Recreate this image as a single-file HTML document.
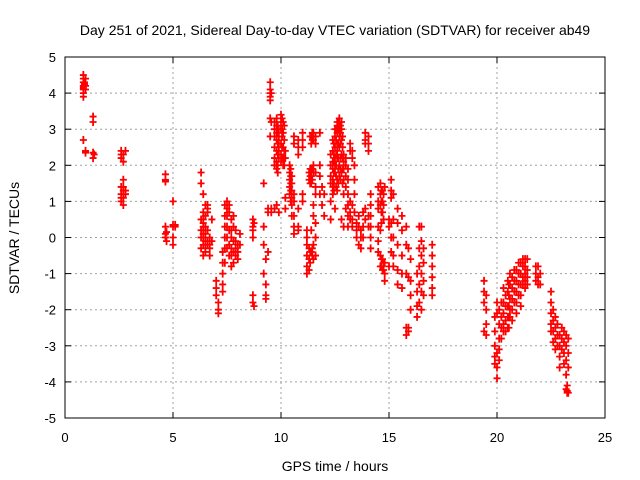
<!DOCTYPE html>
<html><head><meta charset="utf-8"><style>
body{margin:0;background:#fff}
svg{display:block;font-family:"Liberation Sans",sans-serif}
</style></head><body>
<svg id="chart" width="640" height="480">
<text x="335" y="35" text-anchor="middle" font-size="14">Day 251 of 2021, Sidereal Day-to-day VTEC variation (SDTVAR) for receiver ab49</text>
<text x="335" y="471" text-anchor="middle" font-size="14">GPS time / hours</text>
<text transform="translate(19,238) rotate(-90)" text-anchor="middle" font-size="14">SDTVAR / TECUs</text>
<g id="grid"></g><g id="marks"></g><g id="axes"></g>
</svg>
<script>
const xTicks=[0,5,10,15,20,25];
const yTicks=[-5,-4,-3,-2,-1,0,1,2,3,4,5];
const trackTimes=[0.85,0.95,0.9,1.3,1.35,2.6,2.7,2.8,4.65,4.7,5.0,5.1,
6.3,6.4,6.5,6.6,6.7,6.8,7.0,7.1,7.3,7.4,7.5,7.6,7.7,7.8,7.9,8.0,8.1,8.7,8.75,9.2,9.3,9.4,
9.5,9.55,9.7,9.8,9.9,10.0,10.1,10.2,10.4,10.5,10.6,10.8,11.0,11.2,11.3,11.4,11.5,11.6,11.8,11.9,12.0,
12.3,12.4,12.5,12.6,12.7,12.8,12.9,13.0,13.1,13.2,13.3,13.4,13.5,13.6,13.7,13.8,13.9,14.05,14.15,14.5,14.6,14.7,14.8,15.0,
15.1,15.2,15.4,15.6,15.8,15.9,16.0,16.3,16.4,16.5,16.6,17.0,19.4,19.5,19.9,20.0,20.2,20.3,20.5,20.6,20.8,21.0,21.2,21.4,21.8,21.9,22.0,
22.5,22.6,22.8,23.0,23.1,23.2,23.3,
9.85,10.05,10.15,10.45,11.35,11.45,12.45,12.55,12.65,12.75,12.85,14.65,14.75,20.1,20.4,20.55,20.7,20.9,21.1,21.3,22.7,22.9,23.25];
const trackValues=[
[4.5,4.4,4.3,4.2,4.15,4.1,4.0,3.9,2.7],[4.4,4.2,4.1,2.4,2.35],[4.3,4.25,4.2],[3.35,3.2,2.35,2.2],[2.3],
[2.4,2.3,2.2,1.4,1.2,1.1,1.0],[2.3,2.1,1.6,1.4,1.3,1.2,1.1,0.9],[2.4,1.3,1.2],[1.75,1.6,1.55,0.3,0.1,0.0],[-0.1,0.15],[1.0,0.35,0.3,0.0,-0.2],[0.35,0.3],
[1.8,1.5,0.5,0.2,0.0,-0.3],[1.2,0.7,0.5,0.4,0.3,0.1,0.0,-0.2,-0.5],[0.9,0.6,0.3,0.1,-0.1,-0.3,-0.4],[0.9,0.8,0.7,0.2,-0.1,-0.2],[0.0,-0.2,-0.3,-0.5],[0.5,-0.1],[-1.2,-1.4,-1.6],[-1.8,-2.0,-2.1],
[-0.4,-0.7,-1.0,-1.3,-1.5],[0.9,0.6,0.3,0.0,-0.3,-0.7],[1.0,0.8,0.6,0.3,0.0,-0.3],[0.9,0.7,0.2,-0.2,-0.5],[0.5,0.2,0.0,-0.3,-0.5,-0.8],[0.6,0.3,-0.1,-0.4,-0.7],[0.2,-0.1,-0.3,-0.5],[-0.2,-0.4,-0.6],[0.1,-0.2],
[0.5,0.3,0.2,0.0,-1.6,-1.8],[-1.9,0.4],[1.5,0.3,-0.2,-1.0],[-1.3,-1.6,-1.7,-0.6],[0.8,0.7,-0.4],
[4.3,4.1,4.0,3.9,3.8,3.3,2.8],[4.0,3.2,0.8,0.7],[3.2,3.0,2.8,2.5,2.2,2.0,0.8],[3.3,3.1,2.9,2.7,2.4,2.1,1.9,0.9],[3.0,2.8,2.6,2.4,2.2,0.7],[3.4,3.2,3.0,2.6,2.3,2.1],[3.2,2.9,2.5,2.2,2.0],[2.4,2.2,1.1,0.8],
[2.0,1.8,1.6,1.4,1.2],[1.7,1.5,1.3,1.1,0.9,0.6],[2.8,2.6,1.2,1.0,0.6,0.3,0.1],[2.7,2.5,2.3,0.8,0.3,0.2],[2.9,2.7,2.5,1.2,1.0],[0.2,0.0,-0.2,-0.5,-0.8,-1.0],[1.8,1.6,-0.3,-0.6,-0.9],[2.8,2.6,1.9,1.7,1.5,0.2,-0.4],[2.9,2.7,2.0,1.8,0.9,0.6,-0.2,-0.6],[2.8,2.6,1.8,1.4,1.2,0.4,0.0,-0.5],[2.9,2.0,1.7,1.2],[1.4,0.9],[1.2,0.6],
[2.3,2.0,1.7,1.5,1.0,0.5],[2.7,2.4,2.1,1.9,1.6,1.4,1.2],[3.0,2.8,2.5,2.2,2.0,1.8,0.8],[3.2,3.1,2.9,2.6,2.4,2.2,1.6,1.3],[3.3,3.1,3.0,2.8,2.5,2.0,1.7],[3.2,3.0,2.7,2.3,1.8,0.5],[2.3,2.1,1.9,1.6,1.2,0.3],[2.2,2.0,1.7,1.4,0.8],[1.9,1.6,1.2,0.9,0.6,0.3],[2.6,2.4,1.0,0.7,0.5],[2.4,2.2,0.9,0.5,0.3],[2.0,1.6,1.2,0.7],[0.4,0.2,0.0],[0.6,0.3,-0.2],[0.2,0.0,-0.3],[0.7,0.3,0.0],[2.9,2.7,2.6,0.8,0.5],[2.8,2.6,2.4,0.6,0.3],[1.2,0.9,0.6,0.3,0.0,-0.3],[1.4,1.0,0.8,0.3,-0.1,-0.4],[1.5,1.2,0.9,0.2,-0.5,-0.8],[1.3,1.0,0.7,-0.6,-0.9],[1.4,-0.7,-1.0,-1.2],[0.5,0.3,-0.8],
[1.6,1.3,1.1,0.4,0.0,-0.4],[1.2,0.5,0.0,-0.5,-0.8],[0.8,0.4,-0.2,-0.9,-1.3],[0.6,0.2,-0.5,-1.0,-1.4],[0.3,-0.2,-1.0,-2.5,-2.7],[-0.3,-1.1,-2.5,-2.6],[-0.6,-1.2,-1.6,-2.0],[-1.0,-1.5,-1.9,-2.2],[0.3,-0.3,-0.8,-1.3,-1.8],[0.3,-0.1,-0.5,-1.0,-1.5,-2.0],[-0.3,-0.7,-1.2,-1.6],[-0.2,-0.5,-0.8,-1.1,-1.4,-1.6],
[-1.2,-1.5,-1.8,-2.6],[-1.6,-2.0,-2.4,-2.7],[-2.2,-2.6,-3.0,-3.3,-3.5],[-1.8,-2.1,-3.2,-3.6,-3.9],[-1.8,-2.2,-2.5,-2.8],[-1.4,-1.8,-2.1,-2.4,-2.6],[-1.2,-1.5,-1.9,-2.2,-2.5],[-1.0,-1.3,-1.7,-2.0,-2.2],[-0.9,-1.2,-1.5,-1.8],[-0.7,-1.0,-1.3,-1.6],[-0.6,-0.8,-1.1,-1.3],[-0.6,-0.9,-1.1,-1.3],[-0.8,-1.0,-1.2],[-0.8,-1.1,-1.3],[-1.0,-1.3],
[-1.5,-1.8,-2.1,-2.4,-2.6],[-2.0,-2.3,-2.6,-2.9],[-2.4,-2.7,-3.0],[-2.5,-2.8,-3.1],[-2.6,-2.9,-3.2,-3.5],[-2.7,-3.0,-3.4,-3.8,-4.2],[-2.8,-3.2,-3.6,-4.3],
[3.1,2.9,2.6,2.3,2.0,1.8],[3.3,3.0,2.8,2.5,2.2],[3.1,2.7,2.4,2.2,2.0],[1.9,1.7,1.5,1.3,1.0],[2.8,1.9,1.7,1.5,-0.4,-0.7],[2.9,2.7,1.9,1.6,-0.3,-0.5],[2.6,2.3,2.1,1.8,1.5,1.3],[3.0,2.7,2.3,2.0,1.7,1.4],[3.2,3.0,2.6,2.2,1.9,1.5],[3.1,2.9,2.6,2.2,1.9,1.6],[2.8,2.5,2.2,1.9,1.5],[1.3,1.0,0.7,0.4,-0.6,-0.8],[1.2,0.9,0.5,-0.7,-0.9],[-2.0,-2.4,-2.8,-3.1,-3.4],[-1.6,-1.9,-2.3,-2.6],[-1.3,-1.6,-1.9,-2.2,-2.5],[-1.1,-1.4,-1.7,-2.0,-2.3],[-0.9,-1.2,-1.5,-1.8,-2.1],[-0.7,-1.0,-1.3,-1.6,-1.9],[-0.6,-0.8,-1.0,-1.2,-1.4],[-2.2,-2.5,-2.8,-3.1],[-2.7,-3.0,-3.3,-3.6],[-4.1,-4.3,-4.25]];
const X0=65,X1=605,Y0=418,Y1=57;
function xs(t){return X0+(t-0)/25*(X1-X0);}
function ys(v){return Y0-(v+5)/10*(Y0-Y1);}
const ns="http://www.w3.org/2000/svg";
function mk(tag,attrs,parent){const e=document.createElementNS(ns,tag);for(const k in attrs)e.setAttribute(k,attrs[k]);parent.appendChild(e);return e;}
const grid=document.getElementById('grid'),axes=document.getElementById('axes'),marks=document.getElementById('marks');
xTicks.forEach(t=>{const x=xs(t);
 if(t>0&&t<25){const g=mk('line',{x1:x,x2:x,y1:Y1,y2:Y0,stroke:'#a0a0a0','stroke-dasharray':'2,3'},grid);
 
 }
 mk('line',{x1:x,x2:x,y1:Y0,y2:Y0-6,stroke:'#000'},axes);mk('line',{x1:x,x2:x,y1:Y1,y2:Y1+6,stroke:'#000'},axes);
 const l=mk('text',{x:x,y:Y0+24,'text-anchor':'middle','font-size':13},axes);l.textContent=t;
 
 });
yTicks.forEach(v=>{const y=ys(v);
 if(v>-5&&v<5){const g=mk('line',{x1:X0,x2:X1,y1:y,y2:y,stroke:'#a0a0a0','stroke-dasharray':'2,3'},grid);
 
 }
 mk('line',{x1:X0,x2:X0+6,y1:y,y2:y,stroke:'#000'},axes);mk('line',{x1:X1,x2:X1-6,y1:y,y2:y,stroke:'#000'},axes);
 const l=mk('text',{x:X0-9,y:y+5,'text-anchor':'end','font-size':13},axes);l.textContent=v;
 
 });
const b=mk('rect',{x:X0,y:Y1,width:X1-X0,height:Y0-Y1,fill:'none',stroke:'#000'},axes);


let d='';
trackTimes.forEach((t,i)=>{(trackValues[i]||[]).forEach(v=>{const x=xs(t),y=ys(v);
 d+=`M${x-3.5},${y}h7M${x},${y-4}v8`;});});
const p=mk('path',{d:d,stroke:'#ff0000','stroke-width':1.8,fill:'none'},marks);


</script>
</body></html>
